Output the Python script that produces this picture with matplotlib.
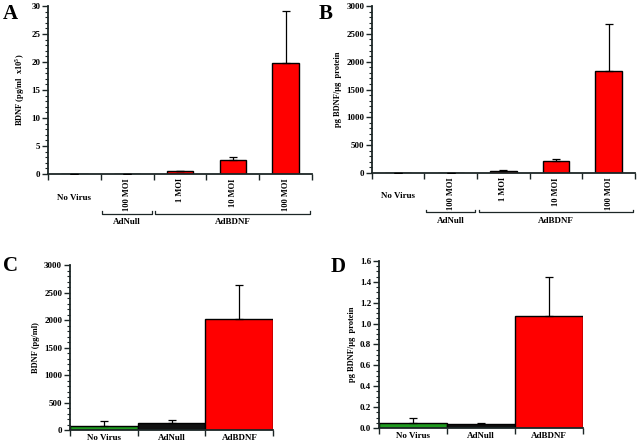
import matplotlib
matplotlib.use("Agg")
import matplotlib.pyplot as plt
import matplotlib.transforms as mtransforms
from matplotlib.ticker import MultipleLocator

plt.rcParams['font.family'] = ['Liberation Serif', 'DejaVu Serif']
plt.rcParams['font.weight'] = 'bold'
plt.rcParams['mathtext.fontset'] = 'custom'
plt.rcParams['mathtext.rm'] = 'Liberation Serif:bold'

# ---- data ----
a_labels = ["No Virus", "100 MOI", "1 MOI", "10 MOI", "100 MOI"]
a_values = [0.05, 0.05, 0.5, 2.5, 19.8]
a_errors = [0.0, 0.0, 0.05, 0.5, 9.3]

b_labels = ["No Virus", "100 MOI", "1 MOI", "10 MOI", "100 MOI"]
b_values = [5, 5, 30, 215, 1840]
b_errors = [0, 0, 15, 40, 840]

group_names = ["AdNull", "AdBDNF"]
group_spans = [(1, 1), (2, 4)]

c_labels = ["No Virus", "AdNull", "AdBDNF"]
c_values = [80, 125, 2015]
c_errors = [85, 55, 620]

d_labels = ["No Virus", "AdNull", "AdBDNF"]
d_values = [0.048, 0.038, 1.07]
d_errors = [0.047, 0.008, 0.377]

colors3 = ["#1f9a1f", "#111111", "#ff0000"]
RED = "#ff0000"
AXC = "#1c2626"

fig = plt.figure(figsize=(6.4, 4.41), dpi=100)

def style(ax, ymax, major, minor):
    for s in ["top", "right"]:
        ax.spines[s].set_visible(False)
    for s in ["left", "bottom"]:
        ax.spines[s].set_color(AXC)
        ax.spines[s].set_linewidth(1.3)
    ax.set_ylim(0, ymax)
    ax.yaxis.set_major_locator(MultipleLocator(major))
    ax.yaxis.set_minor_locator(MultipleLocator(minor))
    ax.tick_params(axis='y', which='major', length=4, width=1, color=AXC,
                   labelsize=6.5, pad=1.5)
    ax.tick_params(axis='y', which='minor', length=2, width=0.8, color=AXC)
    ax.tick_params(axis='x', which='major', length=4, width=1, color=AXC,
                   labelbottom=False)
    for t in ax.get_yticklabels():
        t.set_fontweight('bold')

def top_panel(rect, labels, values, errors, ymax, major, minor, ylabel, letter, lpos):
    ax = fig.add_axes(rect)
    n = len(values)
    xs = list(range(n))
    ax.bar(xs, values, width=0.5, color=RED, edgecolor="black", linewidth=1.0, zorder=2)
    ax.errorbar(xs, values, yerr=[[0] * n, errors], fmt='none', ecolor="black",
                elinewidth=0.9, capsize=3, capthick=0.9, zorder=3)
    ax.set_xlim(-0.5, n - 0.5)
    ax.set_xticks([i - 0.5 for i in range(n + 1)])
    style(ax, ymax, major, minor)
    ax.set_ylabel(ylabel, fontsize=6, fontweight='bold', labelpad=3)
    tr = mtransforms.blended_transform_factory(ax.transData, ax.transAxes)
    for i, lab in enumerate(labels):
        if i == 0:
            ax.text(i, -0.14, lab, transform=tr, ha='center', va='center',
                    fontsize=6.5, fontweight='bold')
        else:
            ax.text(i, -0.025, lab, transform=tr, ha='center', va='top',
                    rotation=90, fontsize=6, fontweight='bold')
    for name, (s, e) in zip(group_names, group_spans):
        x0, x1 = s - 0.47, e + 0.47
        yb = -0.235
        ax.plot([x0, x0, x1, x1], [yb + 0.012, yb, yb, yb + 0.012], color=AXC,
                lw=0.9, transform=tr, clip_on=False)
        ax.text((x0 + x1) / 2, yb - 0.05, name, transform=tr, ha='center',
                va='center', fontsize=6.5, fontweight='bold')
    fig.text(lpos[0], lpos[1], letter, fontsize=15, fontweight='bold',
             ha='center', va='center')
    return ax

def bottom_panel(rect, labels, values, errors, ymax, major, minor, ylabel, letter, lpos):
    ax = fig.add_axes(rect)
    n = len(values)
    xs = list(range(n))
    ax.bar(xs, values, width=1.0, color=colors3, edgecolor="black", linewidth=1.0, zorder=2)
    ax.errorbar(xs, values, yerr=[[0] * n, errors], fmt='none', ecolor="black",
                elinewidth=0.9, capsize=3, capthick=0.9, zorder=3)
    ax.set_xlim(-0.5, n - 0.5)
    ax.set_xticks([i - 0.5 for i in range(n + 1)])
    style(ax, ymax, major, minor)
    ax.set_ylabel(ylabel, fontsize=6, fontweight='bold', labelpad=3)
    tr = mtransforms.blended_transform_factory(ax.transData, ax.transAxes)
    for i, lab in enumerate(labels):
        ax.text(i, -0.025, lab, transform=tr, ha='center', va='top',
                fontsize=6.5, fontweight='bold')
    fig.text(lpos[0], lpos[1], letter, fontsize=15, fontweight='bold',
             ha='center', va='center')
    return ax

top_panel([0.075, 0.6054, 0.4125, 0.381], a_labels, a_values, a_errors,
          30, 5, 1, "BDNF (pg/ml  x10$^5$)", "A", (0.016, 0.968))
top_panel([0.581, 0.6077, 0.411, 0.3787], b_labels, b_values, b_errors,
          3000, 500, 100, "pg BDNF/\u03bcg  protein", "B", (0.509, 0.968))
bottom_panel([0.109, 0.0249, 0.318, 0.374], c_labels, c_values, c_errors,
             3000, 500, 100, "BDNF (pg/ml)", "C", (0.016, 0.397))
bottom_panel([0.592, 0.0295, 0.319, 0.3787], d_labels, d_values, d_errors,
             1.6, 0.2, 0.05, "pg BDNF/\u03bcg  protein", "D", (0.528, 0.395))

fig.savefig("out.png", dpi=100)
